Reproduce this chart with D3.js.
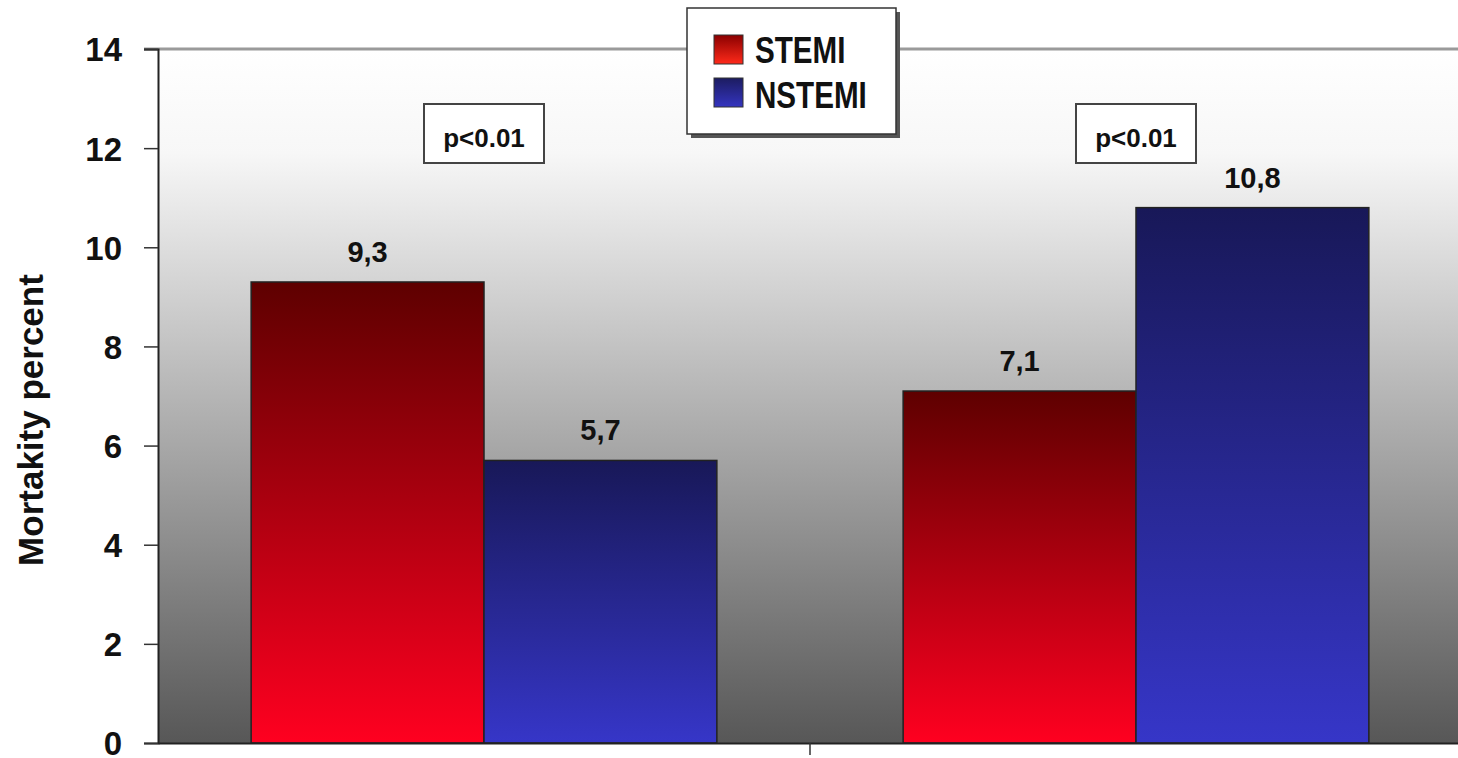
<!DOCTYPE html>
<html>
<head>
<meta charset="utf-8">
<script src="https://cdn.jsdelivr.net/npm/d3@7"></script>
<style>
  html, body { margin: 0; padding: 0; background: #fff; }
  svg { display: block; font-family: "Liberation Sans", Arial, sans-serif; }
</style>
</head>
<body>
<svg id="chart" width="1458" height="758"></svg>
<script>
// Mortality by infarction type, two groups
const categories = ["A", "B"];
const seriesNames = ["STEMI", "NSTEMI"];
const stemiValues = [9.3, 7.1];
const nstemiValues = [5.7, 10.8];
const valueLabels = [["9,3", "5,7"], ["7,1", "10,8"]];
const pLabels = ["p<0.01", "p<0.01"];
const yTicks = [0, 2, 4, 6, 8, 10, 12, 14];

const svg = d3.select("#chart");
const W = 1458;
const x0 = 158, x1 = 1462;

const y = d3.scaleLinear().domain([0, 14]).range([743, 49]);
const x = d3.scaleBand().domain(categories).range([x0, x1]).padding(0);
const xs = d3.scaleBand().domain(seriesNames).range([0, x.bandwidth()]).paddingInner(0).paddingOuter(0.4);

const defs = svg.append("defs");
const bg = defs.append("linearGradient").attr("id", "bgGrad").attr("x1", 0).attr("y1", 0).attr("x2", 0).attr("y2", 1);
bg.append("stop").attr("offset", "0%").attr("stop-color", "#ffffff");
bg.append("stop").attr("offset", "15%").attr("stop-color", "#f7f7f7");
bg.append("stop").attr("offset", "100%").attr("stop-color", "#575757");

function addGrad(id, top, bottom) {
  const g = defs.append("linearGradient").attr("id", id).attr("x1", 0).attr("y1", 0).attr("x2", 0).attr("y2", 1);
  g.append("stop").attr("offset", "0%").attr("stop-color", top);
  g.append("stop").attr("offset", "100%").attr("stop-color", bottom);
}
addGrad("gSTEMI", "#5e0000", "#ff0020");
addGrad("gNSTEMI", "#181858", "#3636c8");
addGrad("lSTEMI", "#8a0000", "#ff2a1a");
addGrad("lNSTEMI", "#1c1c60", "#3434c0");

// plot background
svg.append("rect").attr("x", x0).attr("y", y(14)).attr("width", x1 - x0).attr("height", y(0) - y(14))
  .attr("fill", "url(#bgGrad)");

// top border
svg.append("line").attr("x1", 144).attr("x2", W).attr("y1", y(14)).attr("y2", y(14))
  .attr("stroke", "#9a9a9a").attr("stroke-width", 3);

// bars
const data = categories.map((c, i) => ({
  cat: c,
  items: seriesNames.map((s, j) => ({ s, v: j === 0 ? stemiValues[i] : nstemiValues[i], label: valueLabels[i][j] }))
}));
const groups = svg.selectAll("g.grp").data(data).join("g").attr("class", "grp")
  .attr("transform", d => `translate(${x(d.cat)},0)`);
groups.selectAll("rect.bar").data(d => d.items).join("rect").attr("class", "bar")
  .attr("x", d => xs(d.s)).attr("width", xs.bandwidth())
  .attr("y", d => y(d.v)).attr("height", d => y(0) - y(d.v))
  .attr("fill", d => "url(#g" + d.s + ")")
  .attr("stroke", "#222").attr("stroke-width", 1.5);
groups.selectAll("text.val").data(d => d.items).join("text").attr("class", "val")
  .attr("x", d => xs(d.s) + xs.bandwidth() / 2)
  .attr("y", d => y(d.v) - 20)
  .attr("text-anchor", "middle")
  .attr("font-size", 29).attr("font-weight", "bold").attr("fill", "#111")
  .text(d => d.label);

// p-value boxes, centred on each group
groups.each(function (d, i) {
  const g = d3.select(this);
  const cx = x.bandwidth() / 2;
  g.append("rect").attr("x", cx - 60).attr("y", 104).attr("width", 120).attr("height", 59)
    .attr("fill", "#fff").attr("stroke", "#444").attr("stroke-width", 2);
  g.append("text").attr("x", cx).attr("y", 147).attr("text-anchor", "middle")
    .attr("font-size", 26).attr("font-weight", "bold").attr("fill", "#111").text(pLabels[i]);
});

// axes
const yAxis = d3.axisLeft(y).tickValues(yTicks).tickSize(14).tickPadding(22).tickFormat(d3.format("d"));
const ya = svg.append("g").attr("transform", `translate(${x0},0)`).call(yAxis);
ya.select(".domain").attr("stroke", "#222").attr("stroke-width", 2);
ya.selectAll(".tick line").attr("stroke", "#333").attr("stroke-width", 1.5);
ya.selectAll(".tick text").attr("font-size", 33).attr("font-weight", "bold").attr("fill", "#111")
  .attr("font-family", "Liberation Sans, Arial, sans-serif").attr("dy", "0.36em");

const xAxis = d3.axisBottom(x).tickSize(0).tickFormat("");
const xa = svg.append("g").attr("transform", `translate(0,${y(0)})`).call(xAxis);
xa.select(".domain").attr("stroke", "#222").attr("stroke-width", 2);
// category separator tick
svg.append("line").attr("x1", x("B")).attr("x2", x("B")).attr("y1", y(0)).attr("y2", y(0) + 12)
  .attr("stroke", "#333").attr("stroke-width", 1.5);

// y title
svg.append("text").attr("transform", `translate(43,${y(7) + 24}) rotate(-90)`)
  .attr("text-anchor", "middle").attr("font-size", 35).attr("font-weight", "bold").attr("fill", "#111")
  .text("Mortakity percent");

// legend
const lg = svg.append("g").attr("transform", "translate(687,8)");
lg.append("rect").attr("x", 4).attr("y", 4).attr("width", 209).attr("height", 126).attr("fill", "#555");
lg.append("rect").attr("x", 0).attr("y", 0).attr("width", 209).attr("height", 126)
  .attr("fill", "#fff").attr("stroke", "#333").attr("stroke-width", 1.5);
seriesNames.forEach((s, i) => {
  lg.append("rect").attr("x", 27).attr("y", 27 + i * 43).attr("width", 29).attr("height", 29)
    .attr("fill", "url(#l" + s + ")").attr("stroke", "#333").attr("stroke-width", 1);
  lg.append("text").attr("transform", `translate(68,${55 + i * 45}) scale(0.8,1)`)
    .attr("font-size", 37).attr("font-weight", "bold").attr("fill", "#111").text(s);
});
</script>
</body>
</html>
